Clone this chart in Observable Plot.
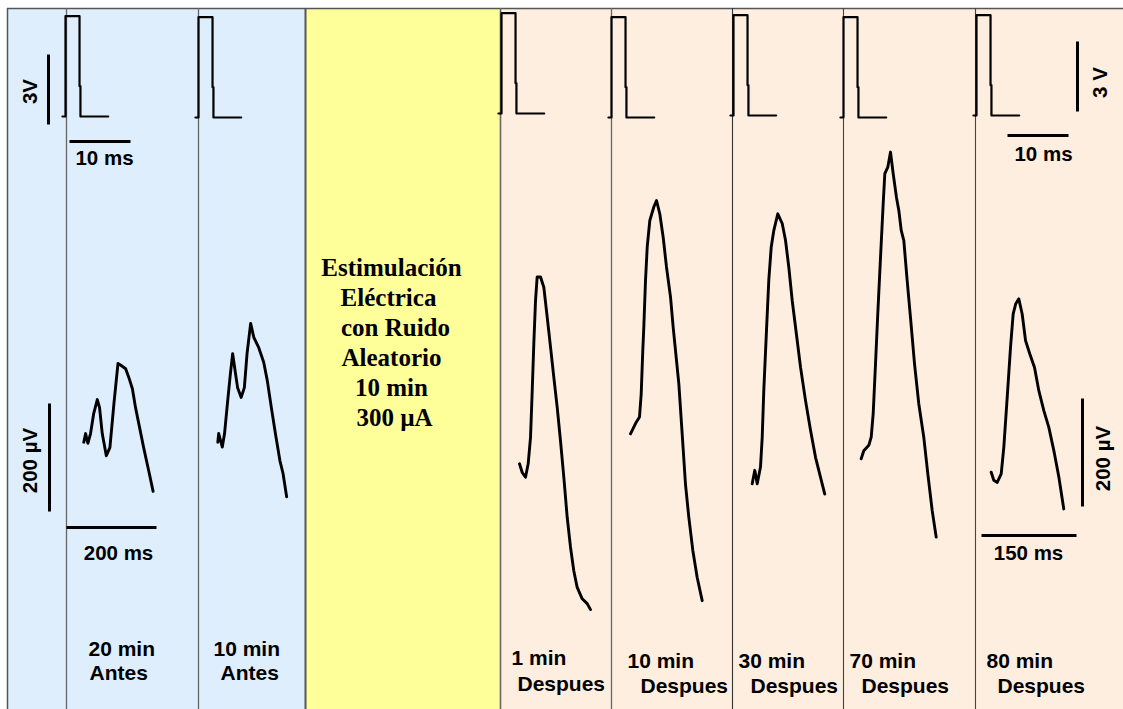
<!DOCTYPE html>
<html>
<head>
<meta charset="utf-8">
<script src="https://cdn.jsdelivr.net/npm/d3@7"></script>
<script src="https://cdn.jsdelivr.net/npm/@observablehq/plot@0.6"></script>
<style>
  html, body { margin: 0; padding: 0; background: #fff; }
  #chart svg { display: block; }
</style>
</head>
<body>
<div id="chart"></div>
<script>
// ---- Data ---------------------------------------------------------------
// Recording sessions, left to right
const sessions = ["20 min", "10 min", "1 min", "10 min", "30 min", "70 min", "80 min"];
const phases   = ["Antes", "Antes", "Despues", "Despues", "Despues", "Despues", "Despues"];

// Evoked field potentials: time (ms) from sweep start and amplitude (µV)
const epTimes = [
  [0, 4, 9, 15, 22, 30, 35, 41, 50, 58, 67, 76, 83, 93, 100, 108, 115, 124, 133, 144, 154],
  [0, 2, 10, 15, 22, 28, 33, 39, 44, 52, 59, 65, 73, 80, 91, 102, 110, 119, 128, 138, 145, 153],
  [0, 4.3, 9.5, 13.7, 17.4, 20.1, 22.6, 25.3, 27.9, 33.2, 38.4, 43.7, 49, 54.2, 59.5, 64.7, 70, 75.3, 80.5, 85.7, 91.1, 99, 106.9, 112.1],
  [0, 7.9, 14.2, 16.9, 19.4, 21, 23.7, 26.4, 30.5, 36.8, 41.1, 46.3, 51.6, 56.8, 63.2, 67.4, 76.3, 81.6, 86.8, 92, 98.4, 105.3, 113.2],
  [0, 4.1, 7.9, 13.1, 15.8, 18.3, 22.1, 26.2, 30, 34.1, 40.4, 47.4, 52.6, 57.8, 63.2, 71.1, 76.3, 84.2, 92.1, 100, 107.9, 114.6],
  [0, 4.1, 12, 15.8, 18.9, 22.6, 26.2, 30.5, 34.7, 37.3, 42, 46.3, 50.5, 55.7, 59.4, 63.2, 67.3, 72.6, 77.8, 84.2, 90.9, 98.8, 105.2, 112.1, 118.4],
  [0, 4.1, 9.5, 15.8, 19.9, 25.3, 30.5, 34.7, 38.8, 43.6, 48.9, 54.2, 61, 68.4, 75.2, 83.1, 91, 98.9, 106.8, 114.6]
];
const epAmps = [
  [0, 16, -2, 16, 53, 79, 64, 16, -25, -10, 72, 146, 142, 136, 120, 99, 64, 27, -10, -52, -91],
  [0, 16, -9, 16, 77, 127, 164, 129, 101, 83, 101, 164, 220, 194, 175, 148, 114, 64, 16, -34, -58, -101],
  [0, -16, -25, 0, 49, 136, 222, 302, 346, 346, 327, 272, 216, 160, 105, 43, -25, -99, -154, -198, -229, -250, -259, -270],
  [0, 19, 31, 74, 154, 197, 284, 346, 395, 420, 432, 407, 364, 309, 253, 197, 93, 0, -93, -154, -216, -266, -309],
  [0, 25, 0, 31, 86, 173, 272, 377, 438, 469, 500, 482, 451, 401, 339, 265, 216, 154, 99, 49, 12, -19],
  [0, 15, 25, 40, 83, 176, 269, 373, 472, 528, 540, 568, 528, 484, 460, 423, 404, 330, 262, 176, 102, 40, -28, -96, -145],
  [0, -15, -19, -3, 46, 139, 231, 293, 312, 321, 293, 244, 219, 194, 151, 114, 83, 40, -9, -68]
];

// Stimulus pulse: time (ms) and voltage (V)
const pulseTime = [-0.5, 0, 0, 2.3, 2.3, 2.45, 2.45, 7.0];
const pulseVolt = [0, 0, 4.3, 4.3, 1.3, 1.3, 0, 0];

// Scale bars
const voltBar = 3;            // V
const pulseTimeBar = 10;      // ms
const ampBar = 200;           // µV
const epTimeBars = [200, 150]; // ms: before group, after group

const stimulusText = ["Estimulación", "Eléctrica", "con Ruido", "Aleatorio", "10 min", "300 µA"];

// ---- Layout -------------------------------------------------------------
const W = 1123, H = 709;
const frameTop = 8, frameLeft = 7;
const pxPerUV = 108 / 200;
const pxPerMsEP = [90 / 200, 95 / 150];   // per group
const pxPerV = 70 / 3;
const pxPerMsPulse = 6.1;
const groupOf = [0, 0, 1, 1, 1, 1, 1];
const epOrigin = [[83.3, 441.7], [217.3, 441.7], [519, 463.3], [630, 433.3], [751.7, 483.3], [860.7, 458.3], [990.7, 471.7]];
const pulseOrigin = [[65, 116], [198, 117], [501, 113], [611, 117], [733, 115], [843, 117], [976, 115]];
const sessionPos = [[88, 649], [213, 649], [511, 658], [627, 661], [738, 661], [849, 661], [986, 661]];
const phasePos   = [[89, 673], [220, 673], [517, 684], [640, 686], [750, 686], [861, 686], [997, 686]];
const stimCenter = [391, 388, 395, 391, 391, 394];

const panels = [
  {x1: frameLeft, x2: 305, fill: "#deeefd"},
  {x1: 305, x2: 500, fill: "#ffff99"},
  {x1: 500, x2: W, fill: "#fdeedf"}
];
const separators = [
  {x: frameLeft, stroke: "#555", w: 1.5},
  {x: 66, stroke: "#666", w: 1.3},
  {x: 198, stroke: "#666", w: 1.3},
  {x: 305, stroke: "#555", w: 2},
  {x: 500, stroke: "#666", w: 1.6},
  {x: 611, stroke: "#666", w: 1.3},
  {x: 732, stroke: "#333", w: 1.1},
  {x: 843, stroke: "#444", w: 1.1},
  {x: 975, stroke: "#444", w: 1.1}
];

// Build trace rows
const epRows = [];
sessions.forEach((s, i) => {
  const [ox, oy] = epOrigin[i];
  const kx = pxPerMsEP[groupOf[i]];
  epTimes[i].forEach((t, j) => epRows.push({k: i, x: ox + t * kx, y: oy - epAmps[i][j] * pxPerUV}));
});
const pulseRows = [];
sessions.forEach((s, i) => {
  const [ox, oy] = pulseOrigin[i];
  pulseTime.forEach((t, j) => pulseRows.push({k: i, x: ox + t * pxPerMsPulse, y: oy - pulseVolt[j] * pxPerV}));
});

// Scale bars built from their values
const bars = [
  {x1: 48, y1: 124, x2: 48, y2: 124 - voltBar * pxPerV},
  {x1: 69, y1: 141, x2: 69 + pulseTimeBar * pxPerMsPulse, y2: 141},
  {x1: 1077, y1: 111, x2: 1077, y2: 111 - voltBar * pxPerV},
  {x1: 1007, y1: 135, x2: 1007 + pulseTimeBar * pxPerMsPulse, y2: 135},
  {x1: 49, y1: 511, x2: 49, y2: 511 - ampBar * pxPerUV},
  {x1: 66, y1: 527, x2: 66 + epTimeBars[0] * pxPerMsEP[0], y2: 527},
  {x1: 1082, y1: 506, x2: 1082, y2: 506 - ampBar * pxPerUV},
  {x1: 981, y1: 535, x2: 981 + epTimeBars[1] * pxPerMsEP[1], y2: 535}
];
const barLabels = [
  {x: 30, y: 91, text: `${voltBar}V`, rotate: -90},
  {x: 104, y: 158, text: `${pulseTimeBar} ms`, rotate: 0},
  {x: 1100, y: 82, text: `${voltBar} V`, rotate: -90},
  {x: 1043, y: 154, text: `${pulseTimeBar} ms`, rotate: 0},
  {x: 30, y: 460, text: `${ampBar} µV`, rotate: -90},
  {x: 118, y: 553, text: `${epTimeBars[0]} ms`, rotate: 0},
  {x: 1103, y: 458, text: `${ampBar} µV`, rotate: -90},
  {x: 1028, y: 553, text: `${epTimeBars[1]} ms`, rotate: 0}
];

const sessionRows = sessions.map((s, i) => ({x: sessionPos[i][0], y: sessionPos[i][1], text: s}));
const phaseRows = phases.map((p, i) => ({x: phasePos[i][0], y: phasePos[i][1], text: p}));
const stimRows = stimulusText.map((t, i) => ({x: stimCenter[i], y: 267 + i * 30, text: t}));

const sans = "'Liberation Sans', Arial, sans-serif";
const serif = "'Liberation Serif', 'Times New Roman', serif";

const chart = Plot.plot({
  width: W,
  height: H,
  margin: 0,
  x: {domain: [0, W], range: [0, W], axis: null},
  y: {domain: [0, H], range: [0, H], axis: null},
  color: {type: "identity"},
  style: {background: "#fff"},
  marks: [
    Plot.rect(panels, {x1: "x1", x2: "x2", y1: frameTop, y2: H, fill: "fill"}),
    Plot.ruleY([frameTop], {x1: frameLeft, x2: W, stroke: "#555", strokeWidth: 1.5}),
    Plot.ruleX(separators, {x: "x", y1: frameTop, y2: H, stroke: "stroke", strokeWidth: d => d.w}),
    Plot.line(pulseRows, {x: "x", y: "y", z: "k", stroke: "#000", strokeWidth: 2.2}),
    Plot.line(epRows, {x: "x", y: "y", z: "k", stroke: "#000", strokeWidth: 2.9, strokeLinejoin: "round", strokeLinecap: "round"}),
    Plot.link(bars, {x1: "x1", y1: "y1", x2: "x2", y2: "y2", stroke: "#000", strokeWidth: 3}),
    Plot.text(barLabels.filter(d => d.rotate === 0), {x: "x", y: "y", text: "text", fontFamily: sans, fontSize: 20.5, fontWeight: "bold", fill: "#000", textAnchor: "middle"}),
    Plot.text(barLabels.filter(d => d.rotate !== 0), {x: "x", y: "y", text: "text", rotate: -90, fontFamily: sans, fontSize: 20.5, fontWeight: "bold", fill: "#000", textAnchor: "middle"}),
    Plot.text(sessionRows, {x: "x", y: "y", text: "text", fontFamily: sans, fontSize: 21, fontWeight: "bold", fill: "#000", textAnchor: "start"}),
    Plot.text(phaseRows, {x: "x", y: "y", text: "text", fontFamily: sans, fontSize: 21, fontWeight: "bold", fill: "#000", textAnchor: "start"}),
    Plot.text(stimRows, {x: "x", y: "y", text: "text", fontFamily: serif, fontSize: 25, fontWeight: "bold", fill: "#000", textAnchor: "middle"})
  ]
});
document.getElementById("chart").appendChild(chart);
</script>
</body>
</html>
